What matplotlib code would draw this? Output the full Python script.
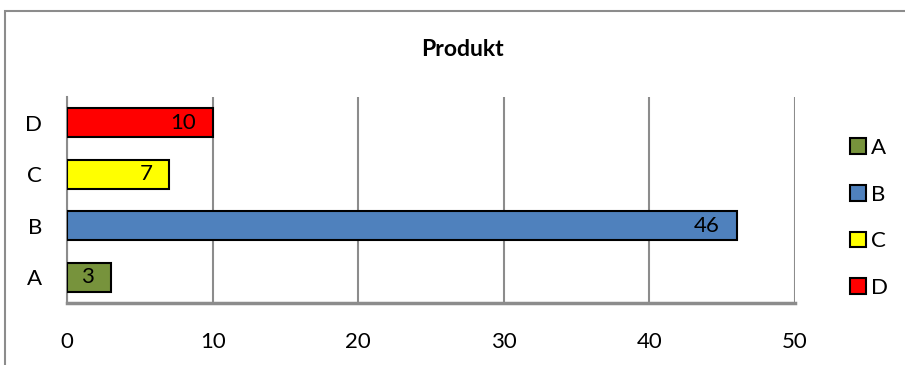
import matplotlib.pyplot as plt
from matplotlib.patches import Patch, Rectangle

categories = ["A", "B", "C", "D"]
values = [3, 46, 7, 10]
colors = ["#77933C", "#4F81BD", "#FFFF00", "#FF0000"]
xticks = [0, 10, 20, 30, 40, 50]

plt.rcParams["font.family"] = ["Lato", "DejaVu Sans"]

fig = plt.figure(figsize=(9.05, 3.65), dpi=100)
ax = fig.add_axes([67 / 905, 1 - 303 / 365, 728 / 905, 206 / 365])

bars = ax.barh(categories, values, height=0.57, color=colors,
               edgecolor="black", linewidth=1.5, zorder=3)
for b, v in zip(bars, values):
    ax.annotate(str(v), (b.get_width(), b.get_y() + b.get_height() / 2),
                xytext=(-12, 0), textcoords="offset points",
                ha="right", va="center", fontsize=16, zorder=4)

ax.set_xlim(0, 50)
ax.set_ylim(-0.5, 3.5)
ax.set_xticks(xticks)
ax.xaxis.grid(True, color="#8C8C8C", linewidth=1.5, zorder=0)
ax.tick_params(axis="both", length=0, labelsize=16)
ax.tick_params(axis="x", pad=21)
ax.tick_params(axis="y", pad=18)
for s in ["top", "right"]:
    ax.spines[s].set_visible(False)
for s in ["left", "bottom"]:
    ax.spines[s].set_color("#8C8C8C")
ax.spines["left"].set_linewidth(1.5)
ax.spines["bottom"].set_linewidth(2.5)

fig.text(462 / 905, 1 - 50 / 365, "Produkt", ha="center", va="center",
         fontsize=16.5, fontweight="bold")

handles = [Patch(facecolor=c, edgecolor="black", linewidth=1.5) for c in colors]
fig.legend(handles, categories, loc="center left",
           bbox_to_anchor=(850 / 905, 1 - 218 / 365), frameon=False,
           fontsize=16, handlelength=0.7, handleheight=0.7,
           handletextpad=0.25, labelspacing=1.2, borderpad=0,
           borderaxespad=0)

# outer chart border (only left and top edges visible in the crop)
fig.patches.append(Rectangle((5 / 905, -0.1), 1.1, 1 - 11 / 365 + 0.1,
                             transform=fig.transFigure, fill=False,
                             edgecolor="#8C8C8C", linewidth=1.5))

fig.savefig("out.png", dpi=100)
